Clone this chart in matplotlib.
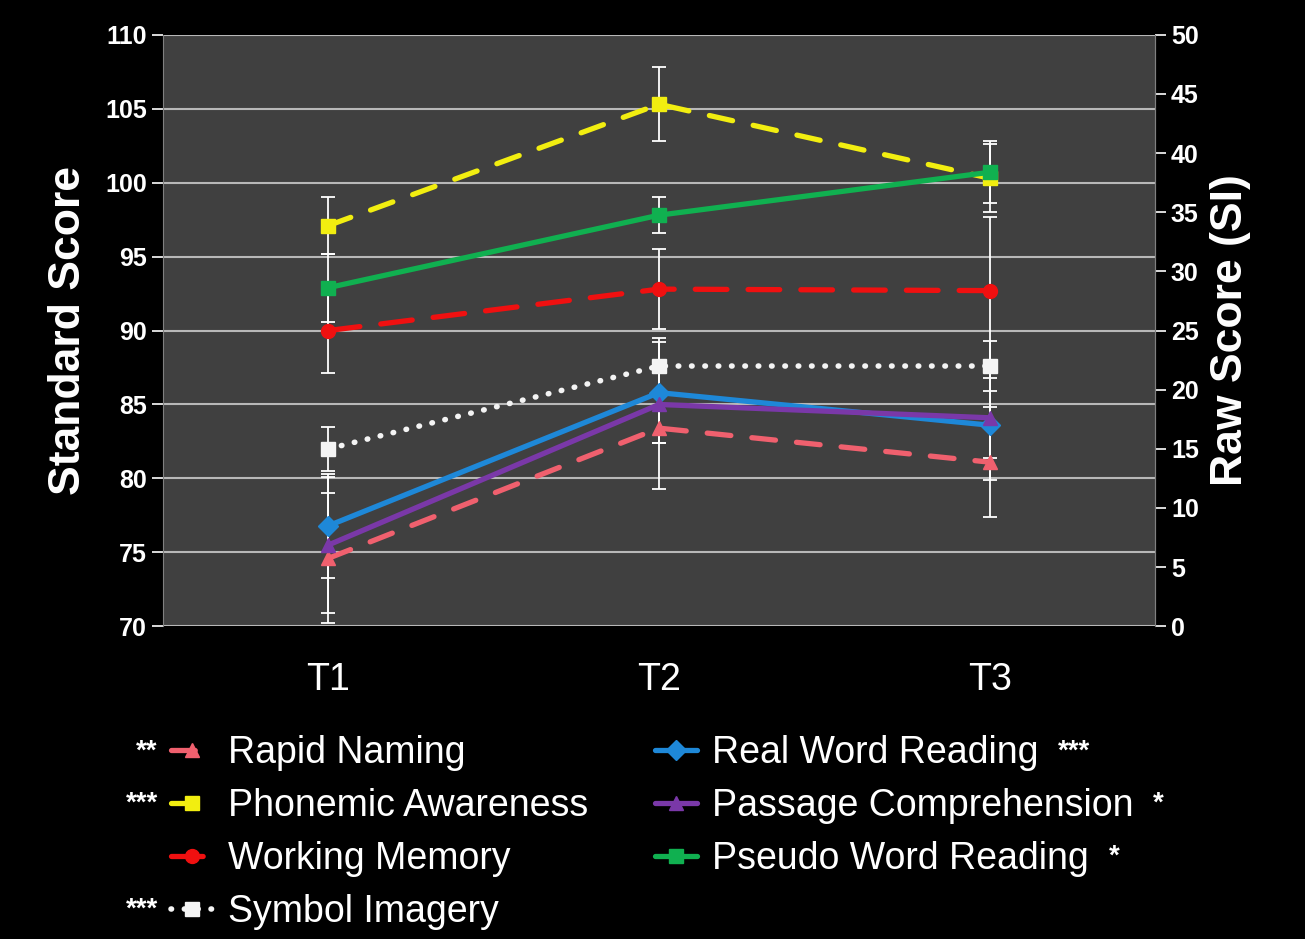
import numpy as np
import matplotlib
matplotlib.use("Agg")
import matplotlib.pyplot as plt

plt.rcParams["font.family"] = ["Liberation Sans", "DejaVu Sans"]

# data (standard-score units)
times = ["T1", "T2", "T3"]
rapid_naming = [74.6, 83.4, 81.1]
rapid_naming_err = [4.4, 4.1, 3.7]
phonemic_awareness = [97.1, 105.3, 100.3]
phonemic_awareness_err = [1.9, 2.5, 2.3]
working_memory = [90.0, 92.8, 92.7]
working_memory_err = [2.9, 2.7, 5.0]
symbol_imagery = [82.0, 87.6, 87.6]
symbol_imagery_err = [1.5, 1.9, 1.7]
real_word_reading = [76.8, 85.8, 83.6]
real_word_reading_err = [3.5, 3.4, 3.7]
passage_comprehension = [75.5, 85.0, 84.1]
passage_comprehension_err = [4.6, 2.6, 2.7]
pseudo_word_reading = [92.9, 97.8, 100.7]
pseudo_word_reading_err = [2.3, 1.2, 2.1]

# significance markers: (before label, after label)
stars = [("**", ""), ("***", ""), ("", ""), ("***", ""),
         ("", "***"), ("", "*"), ("", "*")]

left_ticks = list(range(70, 111, 5))
right_ticks = list(range(0, 51, 5))

DOTS = (0, (0.1, 2.3))
series = [
    ("Rapid Naming", rapid_naming, rapid_naming_err, "#F0606E", (0, (4.5, 4)), "^"),
    ("Phonemic Awareness", phonemic_awareness, phonemic_awareness_err, "#F2EE10", (0, (4.5, 4)), "s"),
    ("Working Memory", working_memory, working_memory_err, "#F01010", (0, (6, 4)), "o"),
    ("Symbol Imagery", symbol_imagery, symbol_imagery_err, "#F4F4F4", DOTS, "s"),
    ("Real Word Reading", real_word_reading, real_word_reading_err, "#1E88D8", "-", "D"),
    ("Passage Comprehension", passage_comprehension, passage_comprehension_err, "#7A38A8", "-", "^"),
    ("Pseudo Word Reading", pseudo_word_reading, pseudo_word_reading_err, "#10B050", "-", "s"),
]

fig = plt.figure(figsize=(13.05, 9.39), dpi=100, facecolor="black")
ax = fig.add_axes([0.125, 0.333, 0.76, 0.63])
ax.set_facecolor("#404040")
x = np.arange(len(times))

for name, vals, err, color, ls, marker in series:
    ax.errorbar(x, vals, yerr=err, fmt="none", ecolor="white", elinewidth=1.3,
                capsize=5, capthick=1.3, zorder=2)

for name, vals, err, color, ls, marker in series:
    lw = 4.0 if ls == DOTS else 3.8
    ax.plot(x, vals, color=color, linestyle=ls, linewidth=lw, marker=marker,
            markersize=10, markeredgecolor=color, label=name,
            dash_capstyle="round", solid_capstyle="round", zorder=3)

ax.set_xlim(-0.5, 2.5)
ax.set_ylim(70, 110)
ax.set_yticks(left_ticks)
ax.set_xticks(x)
ax.set_xticklabels(times)
ax.yaxis.grid(True, color="#B8B8B8", linewidth=1.5)
ax.set_axisbelow(True)
ax.tick_params(axis="y", colors="white", labelsize=18, length=8, width=1.2)
ax.tick_params(axis="x", colors="white", labelsize=27, length=0, pad=26)
for t in ax.get_yticklabels():
    t.set_fontweight("bold")
for s in ["top", "bottom"]:
    ax.spines[s].set_visible(False)
ax.spines["left"].set_color("#808080")
ax.spines["right"].set_color("#808080")
ax.set_ylabel("Standard Score", color="white", fontsize=32, fontweight="bold", labelpad=12)

ax2 = ax.twinx()
ax2.set_ylim(0, 50)
ax2.set_yticks(right_ticks)
ax2.tick_params(axis="y", colors="white", labelsize=18, length=8, width=1.2)
for t in ax2.get_yticklabels():
    t.set_fontweight("bold")
for s in ["top", "bottom", "left"]:
    ax2.spines[s].set_visible(False)
ax2.spines["right"].set_color("#808080")
ax2.set_ylabel("Raw Score (SI)", color="white", fontsize=32, fontweight="bold", labelpad=8)

handles, labels = ax.get_legend_handles_labels()
leg = fig.legend(handles, labels, ncol=2, loc="upper left",
                 bbox_to_anchor=(0.117, 0.237), frameon=False, fontsize=27,
                 handlelength=1.1, handletextpad=0.4, labelspacing=0.45,
                 columnspacing=1.8, borderpad=0)
for t in leg.get_texts():
    t.set_color("white")

# significance stars placed next to legend entries
fig.canvas.draw()
r = fig.canvas.get_renderer()
inv = fig.transFigure.inverted()
for t, (pre, post) in zip(leg.get_texts(), stars):
    bb = t.get_window_extent(r)
    yc = (bb.y0 + bb.y1) / 2 + 2
    if pre:
        xp, yp = inv.transform((bb.x0 - 70, yc))
        fig.text(xp, yp, pre, color="white", fontsize=20, fontweight="bold",
                 ha="right", va="center")
    if post:
        xp, yp = inv.transform((bb.x1 + 20, yc))
        fig.text(xp, yp, post, color="white", fontsize=20, fontweight="bold",
                 ha="left", va="center")

fig.savefig("out.png", dpi=100, facecolor="black")
